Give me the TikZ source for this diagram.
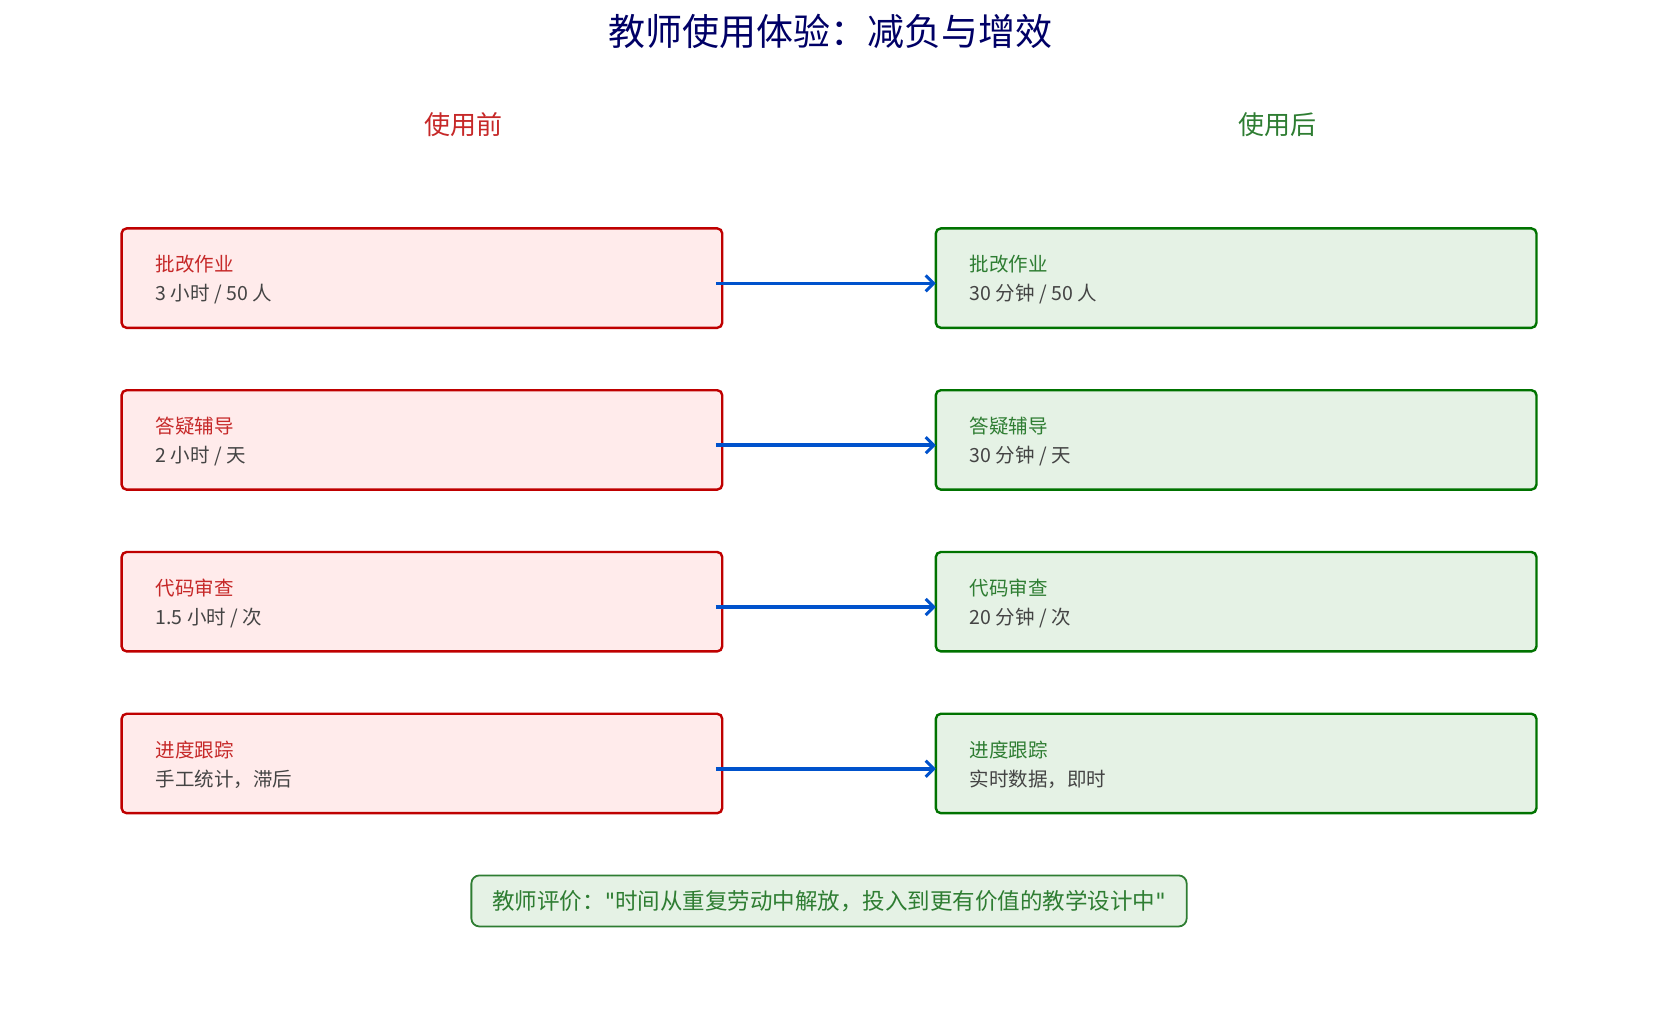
\documentclass[tikz,border=0pt]{standalone}
\usepackage{fontspec}
\usetikzlibrary{arrows.meta}
\setmainfont{Noto Sans CJK SC}
\newfontfamily\djv{DejaVu Sans}
\begin{document}
\begin{tikzpicture}[x=1.057pt,y=-1.057pt,
 bad/.style={draw=red!75!black,fill=red!8,line width=2.4pt,rounded corners=5pt},
 good/.style={draw=green!45!black,fill=green!50!black!10,line width=2.4pt,rounded corners=5pt},
 lab/.style={anchor=west,font=\fontsize{19.5}{22}\selectfont,inner sep=0},
 arr/.style={-{Straight Barb[length=8pt,width=16pt,line width=3pt]},draw=blue!60!cyan!80!black,line width=3.5pt}]
\useasboundingbox (0,0) rectangle (1567,960);
\definecolor{rc}{HTML}{C62828}\definecolor{gc}{HTML}{2E7D32}\definecolor{tc}{HTML}{444444}
\node[text=blue!40!black,font=\fontsize{37}{42}\selectfont] (title) at (785,30) {教师使用体验：减负与增效};
\node[text=rc,font=\fontsize{26}{30}\selectfont] (hb) at (438,118) {使用前};
\node[text=gc,font=\fontsize{26}{30}\selectfont] (ha) at (1208,118) {使用后};
\foreach \i/\y/\t/\b/\a in {1/216/批改作业/{3 小时 / 50 人}/{30 分钟 / 50 人},2/369/答疑辅导/{2 小时 / 天}/{30 分钟 / 天},3/522/代码审查/{1.5 小时 / 次}/{20 分钟 / 次},4/675/进度跟踪/{手工统计，滞后}/{实时数据，即时}}{
 \draw[bad] (115,\y) rectangle (683,\y+94);
 \draw[good] (885,\y) rectangle (1453,\y+94);
 \node[lab,text=rc] (bt\i) at (147,\y+34) {\t};
 \node[lab,text=tc] (bs\i) at (147,\y+62) {\b};
 \node[lab,text=gc] (at\i) at (917,\y+34) {\t};
 \node[lab,text=tc] (as\i) at (917,\y+62) {\a};
 \coordinate (s\i) at (677,\y+52);
 \coordinate (e\i) at (885,\y+52);
 \draw[arr] (s\i) -- (e\i);
}
\node[draw=gc,fill=green!50!black!10,line width=1.8pt,rounded corners=8pt,text=gc,minimum width=715pt,minimum height=51pt,font=\fontsize{22.5}{26}\selectfont] (note) at (784,852) {教师评价：{\djv "}时间从重复劳动中解放，投入到更有价值的教学设计中{\djv "}};
\end{tikzpicture}
\end{document}
